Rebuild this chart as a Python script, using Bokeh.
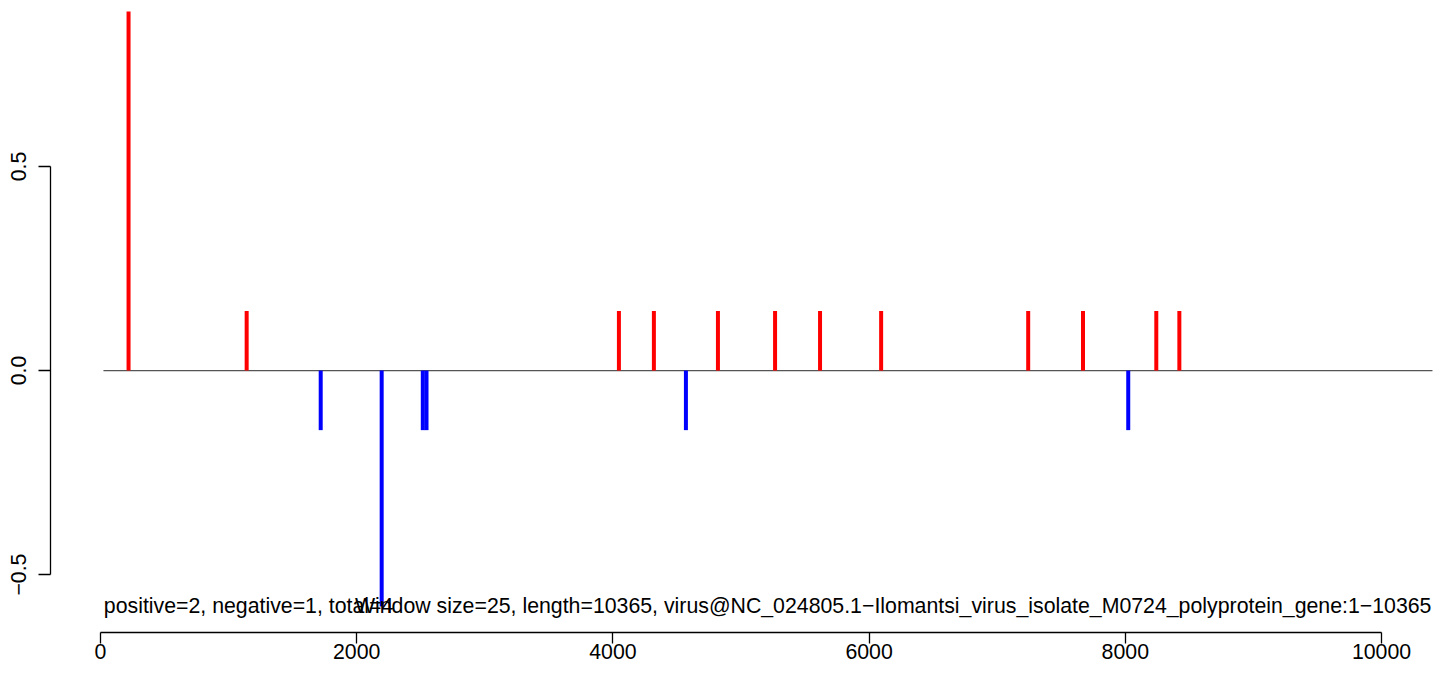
from bokeh.plotting import figure
from bokeh.models import FixedTicker, CustomJSTickFormatter, Label
from bokeh.embed import file_html
from bokeh.resources import INLINE

# data
red_pos = [219, 1141, 4047, 4320, 4820, 5266, 5617, 6094, 7242, 7670, 8242, 8422]
red_val = [0.880, 0.146, 0.146, 0.146, 0.146, 0.146, 0.146, 0.146, 0.146, 0.146, 0.146, 0.146]
blue_pos = [1719, 2195, 2516, 2545, 4570, 8023]
blue_val = [-0.146, -0.578, -0.146, -0.146, -0.146, -0.146]
baseline_x = [23, 10398]
x_ticks = [0, 2000, 4000, 6000, 8000, 10000]
y_ticks = [-0.5, 0.0, 0.5]
left_text = "positive=2, negative=1, total=4"
right_text = "Window size=25, length=10365, virus@NC_024805.1\u2212Ilomantsi_virus_isolate_M0724_polyprotein_gene:1\u221210365"

FONT = "Liberation Sans"
FS = "21.3px"

p = figure(width=1433, height=667, output_backend="svg", toolbar_location=None,
           x_range=(-390.3, 10406), y_range=(-0.642, 0.907),
           min_border_left=50, min_border_right=0, min_border_top=0, min_border_bottom=35)
p.outline_line_color = None
p.xgrid.visible = False
p.ygrid.visible = False
p.background_fill_color = "white"
p.border_fill_color = "white"

# baseline
p.line(baseline_x, [0, 0], line_color="#555555", line_width=1.3)

# bars
p.segment(x0=red_pos, y0=[0] * len(red_pos), x1=red_pos, y1=red_val,
          line_color="#FF0000", line_width=4, line_cap="butt")
p.segment(x0=blue_pos, y0=[0] * len(blue_pos), x1=blue_pos, y1=blue_val,
          line_color="#0000FF", line_width=4, line_cap="butt")

# texts
p.add_layout(Label(x=26, y=-0.578, text=left_text, text_font=FONT, text_font_size=FS,
                   text_baseline="alphabetic", text_align="left", text_color="black"))
p.add_layout(Label(x=10390, y=-0.578, text=right_text, text_font=FONT, text_font_size=FS,
                   text_baseline="alphabetic", text_align="right", text_color="black"))

# axes
xa = p.xaxis[0]
xa.ticker = FixedTicker(ticks=x_ticks)
xa.bounds = (0, 10000)
xa.axis_line_width = 1.3
xa.major_tick_line_width = 1.3
xa.major_tick_out = 11
xa.major_tick_in = 0
xa.minor_tick_out = 0
xa.minor_tick_in = 0
xa.major_label_standoff = 0
xa.major_label_text_font = FONT
xa.major_label_text_font_size = FS
xa.major_label_text_color = "black"

ya = p.yaxis[0]
ya.ticker = FixedTicker(ticks=y_ticks)
ya.bounds = (-0.5, 0.5)
ya.axis_line_width = 1.3
ya.major_tick_line_width = 1.3
ya.major_tick_out = 12
ya.major_tick_in = 0
ya.minor_tick_out = 0
ya.minor_tick_in = 0
ya.major_label_standoff = 12
ya.major_label_orientation = "vertical"
ya.major_label_text_font = FONT
ya.major_label_text_font_size = FS
ya.major_label_text_color = "black"
ya.formatter = CustomJSTickFormatter(code="""
const v = Math.abs(tick).toFixed(1);
return tick < -1e-9 ? '\\u2212' + v : v;
""")

open("out.html", "w").write(file_html(p, INLINE))
